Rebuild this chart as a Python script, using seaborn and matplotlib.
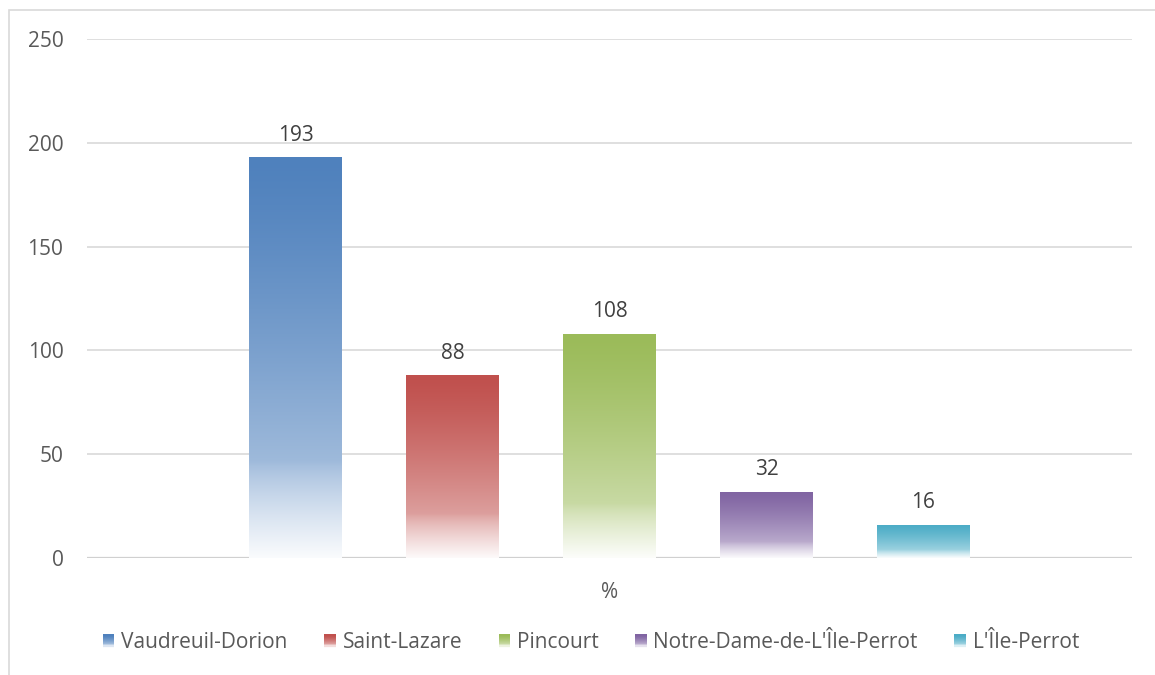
import numpy as np
import pandas as pd
import matplotlib
matplotlib.use("Agg")
import matplotlib.pyplot as plt
import seaborn as sns
from matplotlib.patches import Rectangle
from matplotlib.legend_handler import HandlerBase
from matplotlib.colors import to_rgb

categories = ["%"]
series = ["Vaudreuil-Dorion", "Saint-Lazare", "Pincourt",
          "Notre-Dame-de-L'Île-Perrot", "L'Île-Perrot"]
values = [193, 88, 108, 32, 16]
colors = ["#4F81BD", "#C0504D", "#9BBB59", "#8064A2", "#4BACC6"]
y_ticks = [0, 50, 100, 150, 200, 250]

W, H, DPI = 1155, 675, 100
FS = 15
sns.set_theme(style="white")
plt.rcParams["font.family"] = ["Open Sans", "DejaVu Sans"]

fig = plt.figure(figsize=(W / DPI, H / DPI), dpi=DPI)
ax = fig.add_axes([87 / W, 1 - 558 / H, (1132 - 87) / W, (558 - 39) / H])

df = pd.DataFrame({"cat": categories * len(series), "series": series, "value": values})
sns.barplot(data=df, x="cat", y="value", hue="series", hue_order=series,
            palette=colors, width=0.751, gap=0.408, ax=ax, legend=False,
            edgecolor="none", linewidth=0)

ax.set_xlim(-0.5, 0.5)
ax.set_ylim(0, 250)
ax.set_yticks(y_ticks)
ax.set_xlabel("")
ax.set_ylabel("")
ax.tick_params(axis="y", length=0, pad=17, labelsize=FS, labelcolor="#595959")
ax.tick_params(axis="x", length=0, pad=17, labelsize=FS, labelcolor="#595959")
for s in ax.spines.values():
    s.set_visible(False)
ax.yaxis.grid(True, color="#d9d9d9", linewidth=1.2)
ax.set_axisbelow(True)
ax.axhline(0, color="#d0d0d0", linewidth=1.6, zorder=1)


def grad_colors(c, n=256):
    r = np.array(to_rgb(c))
    t = np.linspace(0, 1, n)  # 0 top, 1 bottom
    tint = np.where(t < 0.76, 0.45 * (t / 0.76) ** 1.3,
                    0.45 + 0.52 * ((t - 0.76) / 0.24) ** 0.8)
    tint = np.clip(tint, 0, 0.97)
    cols = r[None, :] * (1 - tint[:, None]) + tint[:, None]
    return cols


# Replace solid bars with gradient images
for patch, c in zip(ax.patches, colors):
    x0, y0 = patch.get_x(), patch.get_y()
    w, h = patch.get_width(), patch.get_height()
    img = grad_colors(c)[:, None, :]
    im = ax.imshow(img, extent=[x0, x0 + w, y0, y0 + h], aspect="auto",
                   origin="upper", zorder=2, interpolation="bilinear")
    im.set_clip_path(patch)
    patch.set_facecolor("none")
    ax.text(x0 + w / 2, y0 + h + 5.5, f"{h:.0f}", ha="center", va="bottom",
            fontsize=FS, color="#404040")

ax.set_aspect("auto")
ax.set_xlim(-0.5, 0.5)
ax.set_ylim(0, 250)


class GradHandler(HandlerBase):
    def __init__(self, color):
        super().__init__()
        self.color = color

    def create_artists(self, legend, orig_handle, xdescent, ydescent,
                       width, height, fontsize, trans):
        cols = grad_colors(self.color, 12)
        arts = []
        n = len(cols)
        for i, col in enumerate(cols):
            r = Rectangle((-xdescent, -ydescent + height * (1 - (i + 1) / n)),
                          width, height / n + 0.05, facecolor=col,
                          edgecolor="none", transform=trans)
            arts.append(r)
        return arts


handles = [Rectangle((0, 0), 1, 1, facecolor=c) for c in colors]
hmap = {h: GradHandler(c) for h, c in zip(handles, colors)}
leg = fig.legend(handles, series, handler_map=hmap, loc="center",
                 bbox_to_anchor=(591 / W, 1 - 643 / H), ncol=5, frameon=False,
                 fontsize=FS, handlelength=0.55, handleheight=0.6,
                 handletextpad=0.33, columnspacing=1.75, labelcolor="#595959")

# outer chart border (top & left visible)
fig.patches.append(Rectangle((9 / W, -0.1), 1.2, 1 - 10 / H + 0.1,
                             transform=fig.transFigure, fill=False,
                             edgecolor="#d9d9d9", linewidth=1.2))

fig.savefig("out.png", dpi=DPI, facecolor="white")
